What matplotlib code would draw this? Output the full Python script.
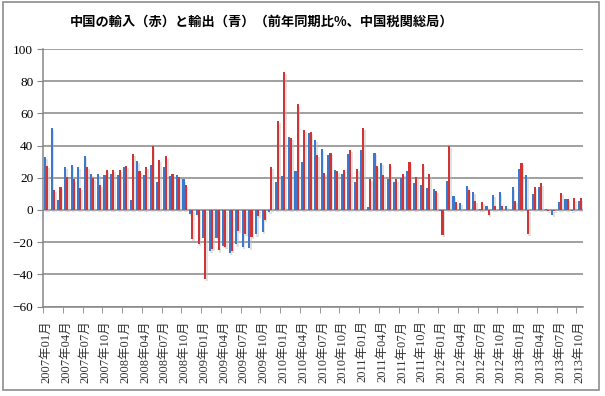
import matplotlib
matplotlib.use("Agg")
import matplotlib.pyplot as plt
from matplotlib.patches import Rectangle
import numpy as np

plt.rcParams['font.family'] = ['Liberation Serif', 'Noto Sans CJK JP']

years = list(range(2007, 2014))
months = [f"{y}年{m:02d}月" for y in years for m in range(1, 13)][:82]

exports = [
    33.0, 51.0, 6.5, 26.5, 28.0, 27.0, 33.5, 22.5, 22.5, 22.0, 22.5, 21.5,
    26.5, 6.5, 30.5, 21.5, 28.0, 17.5, 26.5, 21.0, 21.5, 19.0, -2.2, -2.8,
    -17.5, -25.7, -17.1, -22.6, -26.4, -21.4, -23.0, -23.4, -15.2, -13.8, -1.2, 17.5,
    21.0, 45.5, 24.0, 30.0, 48.0, 43.5, 38.0, 34.4, 25.0, 22.5, 34.5, 17.5,
    37.5, 2.0, 35.5, 29.5, 19.0, 17.5, 20.0, 24.3, 17.0, 15.7, 13.8, 13.2,
    -0.7, 18.2, 8.8, 4.5, 15.0, 11.0, 0.8, 2.5, 9.5, 11.3, 2.7, 14.0,
    25.5, 22.0, 10.0, 14.5, 0.8, -3.3, 5.0, 7.0, -0.5, 5.3,
]
imports = [
    27.5, 12.5, 14.5, 20.5, 19.0, 13.8, 26.5, 20.0, 15.5, 25.0, 25.0, 25.0,
    27.5, 35.0, 24.5, 26.5, 40.0, 31.0, 33.5, 22.5, 20.5, 15.5, -17.9, -21.3,
    -43.1, -24.1, -25.1, -22.8, -25.2, -13.2, -14.9, -17.0, -3.5, -6.4, 26.5, 55.5,
    85.5, 44.5, 66.0, 49.8, 48.3, 34.2, 23.0, 35.3, 24.1, 24.9, 37.5, 25.5,
    51.0, 19.4, 27.3, 21.8, 28.4, 19.0, 22.6, 30.0, 20.7, 28.7, 22.1, 11.8,
    -15.3, 39.6, 5.2, 0.3, 12.6, 5.5, 5.0, -2.8, 2.2, 2.2, 0.0, 5.8,
    29.0, -15.0, 14.2, 16.5, -0.5, -0.8, 10.8, 7.0, 7.2, 7.2,
]
title = "中国の輸入（赤）と輸出（青）（前年同期比%、中国税関総局）"

W, H = 605, 396
fig = plt.figure(figsize=(W / 100, H / 100), dpi=100)
fig.patches.append(Rectangle((2.5 / W, 6 / H), 596 / W, 388 / H, transform=fig.transFigure,
                             fill=False, edgecolor='#8c8c8c', linewidth=1.2))

ax = fig.add_axes([43 / W, 89.4 / H, 540 / W, 257.6 / H])
x = np.arange(len(months))
bw = 0.32
blue = '#3c78cc'
red = '#d03434'

ex = np.array(exports)
im = np.array(imports)
# soft shadows
for off, vals in ((-bw / 2, ex), (bw / 2, im)):
    base = np.minimum(vals, 0) - 1.3
    top = np.maximum(vals, 0) - 1.3
    ax.bar(x + off + 0.22, top - base, bw + 0.05, bottom=base, color='#bdbdbd',
           alpha=0.45, linewidth=0, zorder=2)

ax.bar(x - bw / 2, ex, bw, color=blue, linewidth=0, zorder=3)
ax.bar(x + bw / 2, im, bw, color=red, linewidth=0, zorder=3)

ax.set_xlim(-0.5, len(months) - 0.5)
ax.set_ylim(-60, 100)
ax.set_yticks(range(-60, 101, 20))
ax.yaxis.grid(True, color='#868686', linewidth=1.1, zorder=1)
ax.set_axisbelow(True)
ax.tick_params(axis='y', labelsize=9.5, length=4, color='#868686', pad=3)
for s in ('top', 'right'):
    ax.spines[s].set_visible(False)
for s in ('left', 'bottom'):
    ax.spines[s].set_color('#868686')
    ax.spines[s].set_linewidth(1.1)

ax.set_xticks(x[::3])
ax.set_xticklabels(months[::3], rotation=90, fontsize=9, color='#333333')
ax.set_xticks(np.arange(-0.5, len(months), 3), minor=True)
ax.tick_params(axis='x', which='major', length=0, pad=10)
ax.tick_params(axis='x', which='minor', length=4, color='#868686')

fig.text(0.432, 1 - 22 / H, title, ha='center', va='center', fontsize=9.5,
         fontweight='bold', family=['Noto Sans CJK JP', 'DejaVu Sans'])

fig.savefig('out.png', dpi=100)
